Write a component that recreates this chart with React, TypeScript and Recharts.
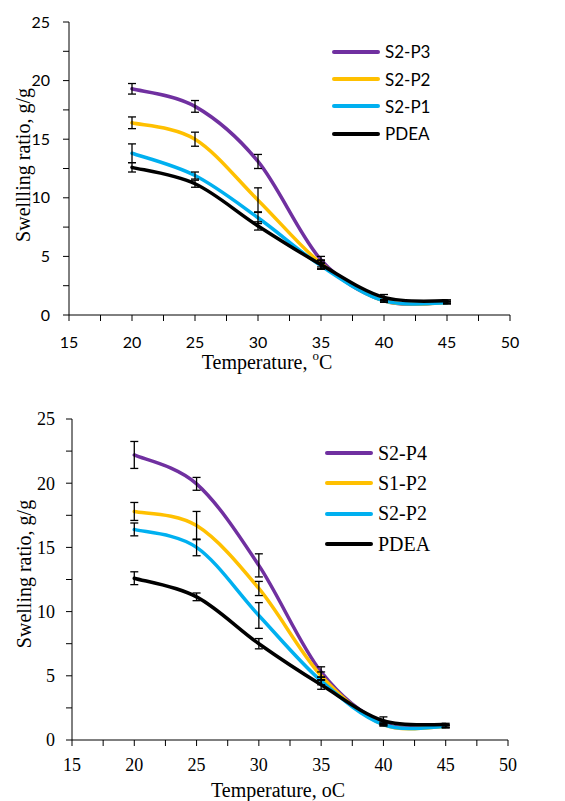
import React from 'react';
import { LineChart, Line, XAxis, YAxis, ErrorBar, Legend, Label } from 'recharts';

// temperatures (°C) where samples were measured
const temps = [20, 25, 30, 35, 40, 45];
const xTicks = [15, 17.5, 20, 22.5, 25, 27.5, 30, 32.5, 35, 37.5, 40, 42.5, 45, 47.5, 50];
const yTicks = [0, 2.5, 5, 7.5, 10, 12.5, 15, 17.5, 20, 22.5, 25];

// top panel
const topS2P3 = [19.3, 17.8, 13.1, 4.7, 1.2, 1.1];
const topS2P3Err = [0.45, 0.5, 0.6, 0.3, 0.1, 0.1];
const topS2P2 = [16.4, 15.0, 9.8, 4.4, 1.2, 1.05];
const topS2P2Err = [0.5, 0.6, 1.05, 0.3, 0.1, 0.1];
const topS2P1 = [13.8, 11.9, 8.3, 4.2, 1.2, 1.05];
const topS2P1Err = [0.8, 0.3, 0.5, 0.3, 0.1, 0.1];
const topPDEA = [12.6, 11.2, 7.6, 4.3, 1.5, 1.2];
const topPDEAErr = [0.4, 0.3, 0.35, 0.35, 0.25, 0.1];

// bottom panel
const botS2P4 = [22.2, 19.95, 13.6, 5.3, 1.3, 1.1];
const botS2P4Err = [1.05, 0.5, 0.9, 0.4, 0.1, 0.1];
const botS1P2 = [17.8, 16.7, 11.8, 5.0, 1.2, 1.05];
const botS1P2Err = [0.7, 1.1, 0.55, 0.3, 0.1, 0.1];
const botS2P2 = [16.4, 15.0, 9.7, 4.6, 1.2, 1.05];
const botS2P2Err = [0.5, 0.65, 1.0, 0.3, 0.1, 0.1];
const botPDEA = [12.6, 11.15, 7.5, 4.3, 1.5, 1.2];
const botPDEAErr = [0.5, 0.3, 0.4, 0.35, 0.3, 0.1];

const PURPLE = '#7030A0';
const ORANGE = '#FFC000';
const CYAN = '#00B0F0';
const BLACK = '#000000';

type Series = { key: string; name: string; color: string; values: number[]; errors: number[] };

const topSeries: Series[] = [
  { key: 's2p3', name: 'S2-P3', color: PURPLE, values: topS2P3, errors: topS2P3Err },
  { key: 's2p2', name: 'S2-P2', color: ORANGE, values: topS2P2, errors: topS2P2Err },
  { key: 's2p1', name: 'S2-P1', color: CYAN, values: topS2P1, errors: topS2P1Err },
  { key: 'pdea', name: 'PDEA', color: BLACK, values: topPDEA, errors: topPDEAErr },
];

const botSeries: Series[] = [
  { key: 's2p4', name: 'S2-P4', color: PURPLE, values: botS2P4, errors: botS2P4Err },
  { key: 's1p2', name: 'S1-P2', color: ORANGE, values: botS1P2, errors: botS1P2Err },
  { key: 's2p2', name: 'S2-P2', color: CYAN, values: botS2P2, errors: botS2P2Err },
  { key: 'pdea', name: 'PDEA', color: BLACK, values: botPDEA, errors: botPDEAErr },
];

const buildRows = (series: Series[]) =>
  temps.map((t, i) => {
    const row: Record<string, number> = { t };
    series.forEach((s) => {
      row[s.key] = s.values[i];
      row[s.key + 'Err'] = s.errors[i];
    });
    return row;
  });

// Excel-style smoothed line (catmull-rom like bezier)
const excelSmooth = (context: any) => {
  let pts: number[][] = [];
  return {
    areaStart() {},
    areaEnd() {},
    lineStart() {
      pts = [];
    },
    point(x: number, y: number) {
      pts.push([+x, +y]);
    },
    lineEnd() {
      if (!pts.length) return;
      context.moveTo(pts[0][0], pts[0][1]);
      for (let i = 0; i < pts.length - 1; i++) {
        const p0 = pts[i - 1] || pts[i];
        const p1 = pts[i];
        const p2 = pts[i + 1];
        const p3 = pts[i + 2] || p2;
        context.bezierCurveTo(
          p1[0] + (p2[0] - p0[0]) / 6,
          p1[1] + (p2[1] - p0[1]) / 6,
          p2[0] - (p3[0] - p1[0]) / 6,
          p2[1] - (p3[1] - p1[1]) / 6,
          p2[0],
          p2[1]
        );
      }
    },
  };
};

const SERIF = '"Liberation Serif", "Times New Roman", serif';
const SANS = 'Lato, "Open Sans", sans-serif';

type PanelProps = {
  series: Series[];
  height: number;
  margin: { top: number; right: number; left: number; bottom: number };
  yAxisWidth: number;
  xAxisHeight: number;
  tickFont: string;
  tickSize: number;
  yTickMargin: number;
  xTickMargin: number;
  legendFont: string;
  legendSize: number;
  legendLeft: number;
  legendTop: number;
  legendRow: number;
  yTitle: string;
  yTitlePos: { x: number; y: number };
  xTitlePos: { x: number; y: number };
  superscript: boolean;
};

const Panel = (p: PanelProps) => {
  const rows = buildRows(p.series);
  const tickStyle = { fontFamily: p.tickFont, fontSize: p.tickSize, fill: '#000' };
  return (
    <LineChart width={565} height={p.height} data={rows} margin={p.margin}>
      <XAxis
        dataKey="t"
        type="number"
        domain={[15, 50]}
        ticks={xTicks}
        interval={0}
        height={p.xAxisHeight}
        stroke="#000"
        tickSize={6}
        tickMargin={p.xTickMargin}
        tick={tickStyle}
        tickFormatter={(v: number) => (v % 5 === 0 ? String(v) : '')}
      >
        <Label
          content={() => (
            <text
              x={p.xTitlePos.x}
              y={p.xTitlePos.y}
              textAnchor="middle"
              dominantBaseline="central"
              fontFamily={SERIF}
              fontSize={20}
              fill="#000"
            >
              {p.superscript ? (
                <>
                  Temperature,{' '}
                  <tspan fontSize={13} dy={-7}>o</tspan>
                  <tspan dy={7}>C</tspan>
                </>
              ) : (
                'Temperature, oC'
              )}
            </text>
          )}
        />
      </XAxis>
      <YAxis
        type="number"
        domain={[0, 25]}
        ticks={yTicks}
        interval={0}
        width={p.yAxisWidth}
        stroke="#000"
        tickSize={6}
        tickMargin={p.yTickMargin}
        tick={tickStyle}
        tickFormatter={(v: number) => (v % 5 === 0 ? String(v) : '')}
      >
        <Label
          content={() => (
            <text
              x={p.yTitlePos.x}
              y={p.yTitlePos.y}
              textAnchor="middle"
              dominantBaseline="central"
              fontFamily={SERIF}
              fontSize={20}
              fill="#000"
              transform={`rotate(-90 ${p.yTitlePos.x} ${p.yTitlePos.y})`}
            >
              {p.yTitle}
            </text>
          )}
        />
      </YAxis>
      {p.series.map((s) => (
        <Line
          key={s.key}
          dataKey={s.key}
          type={excelSmooth as any}
          stroke={s.color}
          strokeWidth={3.5}
          strokeLinecap="round"
          dot={false}
          activeDot={false}
          isAnimationActive={false}
        />
      ))}
      {p.series.map((s) => (
        <Line
          key={s.key + '-err'}
          dataKey={s.key}
          type="linear"
          stroke="none"
          dot={false}
          activeDot={false}
          legendType="none"
          isAnimationActive={false}
        >
          <ErrorBar dataKey={s.key + 'Err'} direction="y" width={4} strokeWidth={1.3} stroke="#000" />
        </Line>
      ))}
      <Legend
        layout="horizontal"
        verticalAlign="middle"
        align="center"
        wrapperStyle={{ left: p.legendLeft, top: p.legendTop, width: 160, height: p.legendRow * 4 }}
        content={() => (
          <div>
            {p.series.map((s) => (
              <div
                key={s.key}
                style={{
                  display: 'flex',
                  alignItems: 'center',
                  height: p.legendRow,
                  fontFamily: p.legendFont,
                  fontSize: p.legendSize,
                  color: '#000',
                }}
              >
                <div style={{ width: 48, height: 4, background: s.color, borderRadius: 2, marginRight: 5 }} />
                <span>{s.name}</span>
              </div>
            ))}
          </div>
        )}
      />
    </LineChart>
  );
};

export default function App() {
  return (
    <div style={{ position: 'absolute', left: 0, top: 0, width: 565, height: 801, background: '#fff' }}>
      <div style={{ position: 'absolute', left: 0, top: 0 }}>
        <Panel
          series={topSeries}
          height={395}
          margin={{ top: 22, right: 55, left: 0, bottom: 0 }}
          yAxisWidth={69}
          xAxisHeight={80}
          tickFont={SANS}
          tickSize={16}
          yTickMargin={13}
          xTickMargin={16}
          legendFont={SANS}
          legendSize={17}
          legendLeft={332}
          legendTop={38}
          legendRow={27.4}
          yTitle="Swellling ratio, g/g"
          yTitlePos={{ x: 23, y: 165 }}
          xTitlePos={{ x: 267, y: 362 }}
          superscript
        />
      </div>
      <div style={{ position: 'absolute', left: 0, top: 400 }}>
        <Panel
          series={botSeries}
          height={401}
          margin={{ top: 19, right: 57, left: 0, bottom: 0 }}
          yAxisWidth={72}
          xAxisHeight={61}
          tickFont={SERIF}
          tickSize={18}
          yTickMargin={11}
          xTickMargin={12}
          legendFont={SERIF}
          legendSize={20}
          legendLeft={325}
          legendTop={38}
          legendRow={30.3}
          yTitle="Swelling ratio, g/g"
          yTitlePos={{ x: 24, y: 174 }}
          xTitlePos={{ x: 278, y: 390 }}
          superscript={false}
        />
      </div>
    </div>
  );
}
